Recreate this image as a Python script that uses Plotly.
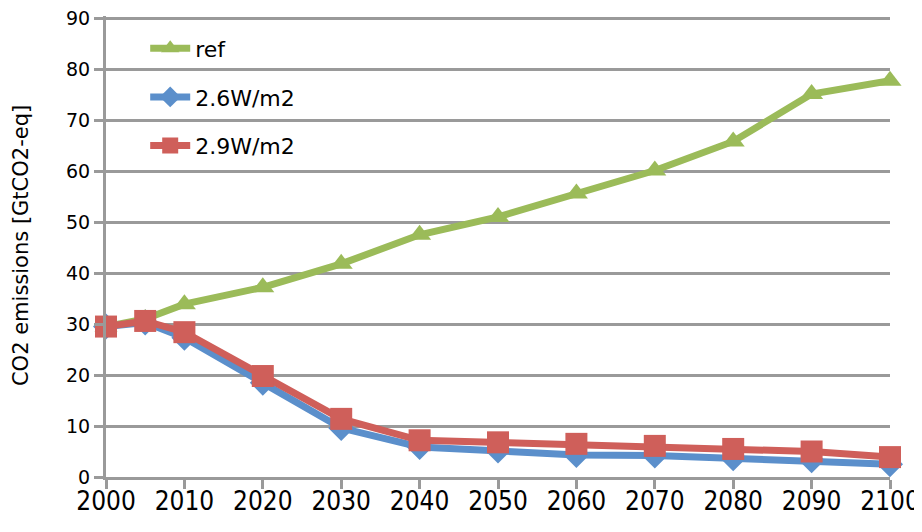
import plotly.graph_objects as go

years = [2000, 2005, 2010, 2020, 2030, 2040, 2050, 2060, 2070, 2080, 2090, 2100]
ref = [29.5, 31.0, 33.9, 37.2, 41.8, 47.5, 51.0, 55.6, 60.1, 65.8, 75.1, 77.7]
w26 = [29.5, 30.3, 27.3, 18.5, 9.6, 5.9, 5.2, 4.3, 4.2, 3.7, 3.3, 2.5]
w29 = [29.5, 30.6, 28.4, 19.8, 11.4, 7.2, 6.8, 6.5, 6.1, 5.5, 5.0, 3.9]
names = ["ref", "2.6W/m2", "2.9W/m2"]
y_title = "CO2 emissions [GtCO2-eq]"
colors = ["#9BBB59", "#5B8FCB", "#CF5F5A"]
symbols = ["triangle-up", "diamond", "square"]
msizes = [20, 20, 22]

fig = go.Figure()
for i, (vals, nm) in enumerate(zip([ref, w26, w29], names)):
    fig.add_trace(go.Scatter(
        x=years, y=vals, name=nm, mode="lines+markers",
        line=dict(color=colors[i], width=7),
        marker=dict(symbol=symbols[i], size=msizes[i], color=colors[i]),
        cliponaxis=False, legendgroup=nm,
    ))

grid = "#9a9a9a"
# page body has an 8px margin; figure is sized so the plot area lands where the reference has it
fig.update_layout(
    width=914, height=524,
    margin=dict(l=98, r=32, t=8, b=55, autoexpand=False),
    plot_bgcolor="white", paper_bgcolor="white",
    font=dict(family="DejaVu Sans", color="black"),
    showlegend=True,
    legend=dict(x=0.05, y=0.975, xanchor="left", yanchor="top",
                bgcolor="rgba(0,0,0,0)", font=dict(size=22, family="DejaVu Sans"),
                tracegroupgap=17, itemwidth=40),
    xaxis=dict(range=[2000, 2100], tickvals=list(range(2000, 2101, 10)),
               showgrid=False, showline=True, linecolor=grid, linewidth=3,
               ticks="outside", ticklen=9, tickwidth=3, tickcolor=grid,
               tickfont=dict(size=26, family="DejaVu Sans Condensed"),
               ticklabeloverflow="allow", ticklabelstandoff=-10,
               zeroline=False, automargin=False),
    yaxis=dict(range=[0, 90.4], tickvals=list(range(0, 91, 10)), showgrid=True,
               gridcolor=grid, gridwidth=3,
               showline=True, linecolor=grid, linewidth=3,
               ticks="outside", ticklen=9, tickwidth=3, tickcolor=grid,
               tickfont=dict(size=19), zeroline=False, automargin=False,
               ticksuffix="\u00a0\u2009\u2009", ticklabeloverflow="allow"),
    annotations=[dict(text=y_title, textangle=-90, xref="paper", yref="paper",
                      x=-0.1084, y=0.501, xanchor="center", yanchor="middle",
                      showarrow=False, font=dict(size=21, family="DejaVu Sans"))],
)
fig.write_html("out.html")
